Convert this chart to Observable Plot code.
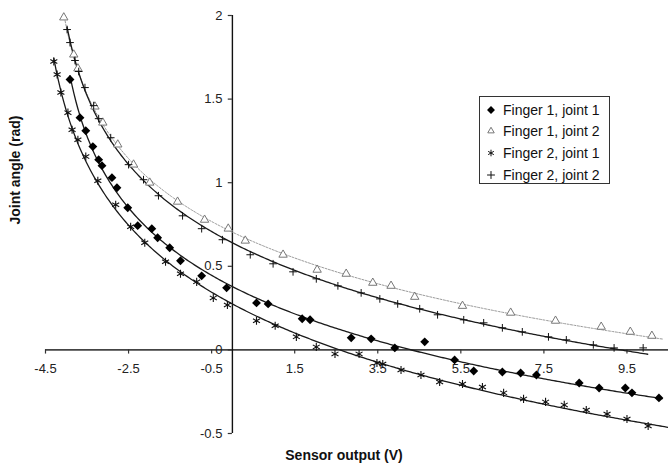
<!DOCTYPE html>
<html>
<head>
<meta charset="utf-8">
<script src="https://cdn.jsdelivr.net/npm/d3@7"></script>
<script src="https://cdn.jsdelivr.net/npm/@observablehq/plot@0.6"></script>
<style>
  html, body { margin: 0; padding: 0; background: #fff; }
  #wrap { position: relative; width: 668px; height: 470px; font-family: "Liberation Sans", Arial, sans-serif; }
  #legend { position: absolute; left: 479px; top: 96px; width: 131px; height: 88px; box-sizing: border-box;
            border: 1px solid #333; background: #fff; padding-top: 2px; }
  .row { height: 21.6px; display: flex; align-items: center; font-size: 14px; color: #111; }
  .row svg { width: 14px; height: 14px; margin-left: 4px; margin-right: 5px; overflow: visible; }
</style>
</head>
<body>
<div id="wrap"><div id="legend"></div></div>
<script>
// ---- Data ----
const seriesNames = ["Finger 1, joint 1", "Finger 1, joint 2", "Finger 2, joint 1", "Finger 2, joint 2"];

const f1j1X = [-3.91,-3.67,-3.53,-3.36,-3.22,-3.14,-2.90,-2.78,-2.52,-2.28,-1.94,-1.80,-1.51,-1.25,-0.74,-0.14,0.58,0.86,1.68,1.87,2.86,3.34,3.91,4.63,5.35,5.81,6.50,6.94,7.32,8.35,8.83,9.46,9.62,10.27];
const f1j1Y = [1.617,1.389,1.311,1.216,1.138,1.102,1.030,0.970,0.850,0.743,0.725,0.671,0.611,0.533,0.443,0.371,0.281,0.275,0.186,0.180,0.072,0.066,0.012,0.048,-0.060,-0.126,-0.132,-0.138,-0.150,-0.198,-0.228,-0.228,-0.257,-0.287];

const f1j2X = [-4.06,-3.82,-3.72,-3.31,-3.12,-2.76,-2.38,-1.99,-1.32,-0.67,-0.10,0.31,1.22,2.04,2.74,3.38,3.82,4.39,5.54,6.70,7.78,8.88,9.58,10.10];
const f1j2Y = [1.988,1.766,1.683,1.455,1.359,1.228,1.108,1.000,0.886,0.778,0.725,0.653,0.569,0.479,0.455,0.401,0.383,0.317,0.263,0.222,0.174,0.138,0.108,0.084];

const f2j1X = [-4.30,-4.22,-4.13,-3.96,-3.86,-3.72,-3.53,-3.24,-2.81,-2.45,-2.11,-1.61,-1.25,-0.86,-0.46,-0.12,0.58,1.03,1.54,2.02,2.47,3.05,3.48,3.62,4.06,4.54,4.99,5.54,6.02,6.53,7.01,7.54,7.99,8.52,9.02,9.50,10.01];
const f2j1Y = [1.725,1.647,1.539,1.419,1.317,1.257,1.156,1.012,0.868,0.737,0.641,0.527,0.455,0.407,0.311,0.269,0.174,0.144,0.078,0.018,-0.024,-0.024,-0.078,-0.084,-0.120,-0.150,-0.192,-0.204,-0.222,-0.257,-0.293,-0.311,-0.329,-0.359,-0.383,-0.413,-0.455];

const f2j2X = [-3.98,-3.91,-3.79,-3.70,-3.55,-3.34,-3.22,-2.93,-2.50,-2.14,-1.78,-1.20,-0.74,-0.24,0.43,0.98,1.46,2.02,2.54,3.10,3.55,3.98,4.51,4.94,5.57,6.05,6.50,6.98,7.61,8.04,8.69,9.19,9.89];
const f2j2Y = [1.916,1.838,1.731,1.665,1.569,1.461,1.383,1.269,1.108,1.018,0.922,0.802,0.725,0.659,0.569,0.515,0.467,0.425,0.383,0.341,0.305,0.275,0.246,0.210,0.180,0.162,0.132,0.108,0.078,0.060,0.030,0.012,0.012];

// right end of each fitted trend line
const trendEnds = [10.35, 10.35, 10.5, 10.0];

const xTicks = [-4.5,-2.5,-0.5,1.5,3.5,5.5,7.5,9.5];
const xTickLabels = ["-4.5","-2.5","-0.5","1.5","3.5","5.5","7.5","9.5"];
const yTicks = [-0.5,0,0.5,1,1.5,2];
const yTickLabels = ["-0.5","0","0.5","1","1.5","2"];

// ---- Build table ----
const raw = [[f1j1X,f1j1Y],[f1j2X,f1j2Y],[f2j1X,f2j1Y],[f2j2X,f2j2Y]];
const points = [];
raw.forEach(([xs, ys], k) => xs.forEach((x, i) => points.push({series: seriesNames[k], x, y: ys[i]})));

// Trend line: least-squares fit y = a + b*ln(x + d), d searched on a grid
function fitLog(xs, ys) {
  const minx = d3.min(xs);
  let best = null;
  for (let d = -minx + 0.02; d < -minx + 40; d += 0.01) {
    const u = xs.map(x => Math.log(x + d));
    const mu = d3.mean(u), my = d3.mean(ys);
    let sxy = 0, sxx = 0;
    u.forEach((v, i) => { sxy += (v - mu) * (ys[i] - my); sxx += (v - mu) ** 2; });
    const b = sxy / sxx, a = my - b * mu;
    let sse = 0;
    u.forEach((v, i) => { sse += (ys[i] - (a + b * v)) ** 2; });
    if (!best || sse < best.sse) best = {a, b, d, sse};
  }
  return best;
}
const trend = [];
raw.forEach(([xs, ys], k) => {
  const f = fitLog(xs, ys);
  const x0 = d3.min(xs), x1 = trendEnds[k];
  for (let i = 0; i <= 300; i++) {
    const x = x0 + (x1 - x0) * i / 300;
    trend.push({series: seriesNames[k], x, y: f.a + f.b * Math.log(x + f.d)});
  }
});

const chart = Plot.plot({
  width: 668, height: 470,
  marginTop: 15, marginBottom: 37, marginLeft: 45, marginRight: 0,
  x: {domain: [-4.5, 10.5], axis: null},
  y: {domain: [-0.5, 2], axis: null},
  style: {fontFamily: "'Liberation Sans', Arial, sans-serif", background: "white", color: "#111"},
  marks: [
    // axes
    Plot.ruleY([0], {stroke: "#444", strokeWidth: 1.8}),
    Plot.ruleX([0], {y1: -0.5, y2: 2, stroke: "#111", strokeWidth: 1.4}),
    Plot.ruleX(xTicks, {y1: 0, y2: -0.025, stroke: "#333", strokeWidth: 1.2}),
    Plot.ruleY(yTicks, {x1: 0, x2: -0.1, stroke: "#333", strokeWidth: 1.2}),
    Plot.text(xTicks, {x: d => d, y: 0, dy: 19, text: (d, i) => xTickLabels[i], fontSize: 13, fill: "#222"}),
    Plot.text(yTicks, {x: 0, y: d => d, dx: -10, textAnchor: "end", text: (d, i) => yTickLabels[i], fontSize: 13, fill: "#222"}),
    Plot.text(["Sensor output (V)"], {frameAnchor: "bottom", dx: -13, dy: 26, fontWeight: "bold", fontSize: 14, fill: "#111"}),
    Plot.text(["Joint angle (rad)"], {frameAnchor: "left", dx: -30, rotate: -90, fontWeight: "bold", fontSize: 14, fill: "#111"}),
    // trend lines
    Plot.line(trend.filter(d => d.series === seriesNames[1]), {x: "x", y: "y", stroke: "#999", strokeWidth: 1, strokeDasharray: "2,1.5"}),
    Plot.line(trend.filter(d => d.series !== seriesNames[1]), {x: "x", y: "y", z: "series", stroke: "#1a1a1a", strokeWidth: 1.3}),
    // markers
    Plot.dot(points.filter(d => d.series === seriesNames[1]), {x: "x", y: "y", symbol: "triangle2", r: 4, stroke: "#777", strokeWidth: 1, fill: "white"}),
    Plot.dot(points.filter(d => d.series === seriesNames[3]), {x: "x", y: "y", symbol: "plus", r: 2.6, stroke: "#111", strokeWidth: 1}),
    Plot.dot(points.filter(d => d.series === seriesNames[2]), {x: "x", y: "y", symbol: "asterisk", r: 3.8, stroke: "#111", strokeWidth: 1.1}),
    Plot.dot(points.filter(d => d.series === seriesNames[0]), {x: "x", y: "y", symbol: "diamond2", r: 4, fill: "#000", stroke: "none"})
  ]
});
document.getElementById("wrap").prepend(chart);

// Legend
const legendSymbols = [
  {sym: d3.symbolDiamond2, size: 40, fill: "#000", stroke: "none"},
  {sym: d3.symbolTriangle2, size: 30, fill: "white", stroke: "#777"},
  {sym: d3.symbolAsterisk, size: 30, fill: "none", stroke: "#111"},
  {sym: d3.symbolPlus, size: 22, fill: "none", stroke: "#111"}
];
const legend = d3.select("#legend");
seriesNames.forEach((name, i) => {
  const row = legend.append("div").attr("class", "row");
  const s = legendSymbols[i];
  row.append("svg").attr("viewBox", "-7 -7 14 14")
    .append("path").attr("d", d3.symbol(s.sym, s.size)())
    .attr("fill", s.fill).attr("stroke", s.stroke).attr("stroke-width", 1);
  row.append("span").text(name);
});
</script>
</body>
</html>
